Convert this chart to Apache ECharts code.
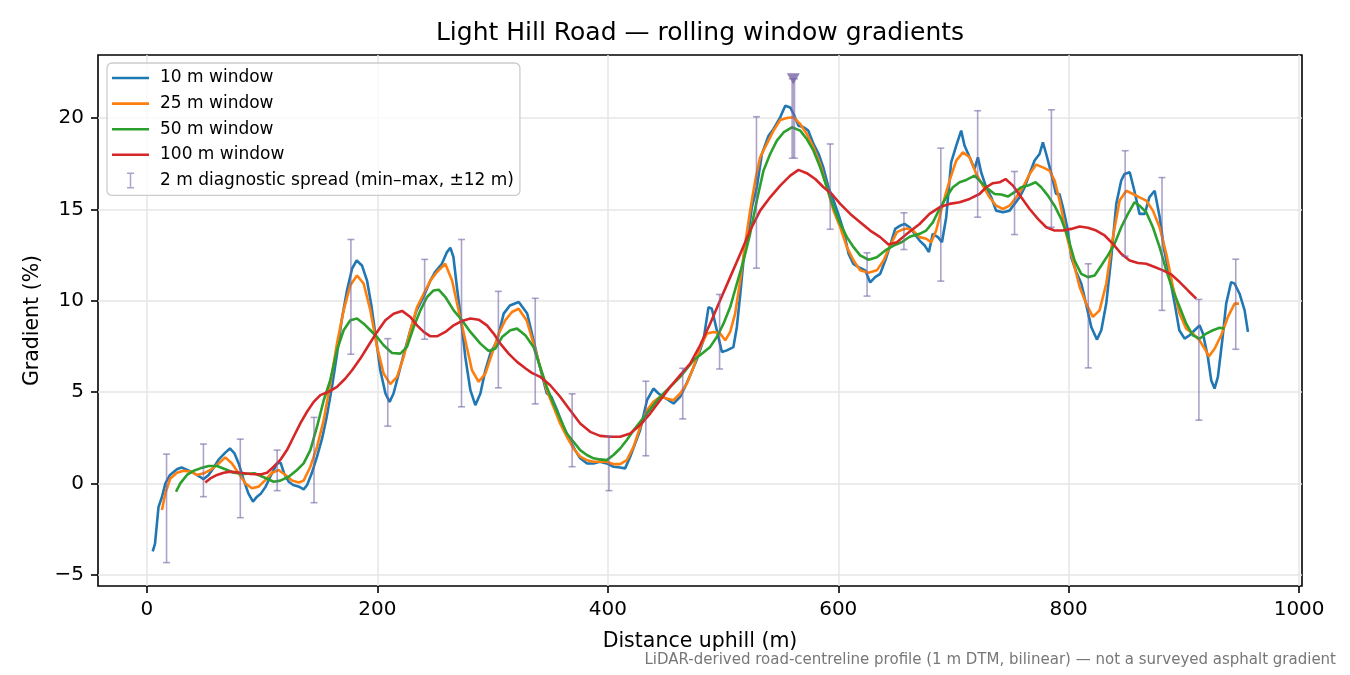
<!DOCTYPE html>
<html>
<head>
<meta charset="utf-8">
<title>Light Hill Road — rolling window gradients</title>
<script src="https://cdn.jsdelivr.net/npm/echarts@6/dist/echarts.min.js"></script>
<style>
html, body { margin: 0; padding: 0; background: #fff; }
#chart { width: 1350px; height: 675px; }
</style>
</head>
<body>
<div id="chart"></div>
<script>
// tick labels
const xTicks = [0, 200, 400, 600, 800, 1000];
const yTicks = [-5, 0, 5, 10, 15, 20];

// rolling window gradients, [distance m, gradient %]
const w10 = [[5,-3.73],[7,-3.3],[10,-1.3],[13,-0.75],[16,0],[20,0.46],[26,0.77],[30,0.87],[35,0.73],[40,0.58],[46,0.36],[49,0.22],[53.5,0.46],[58,0.87],[62,1.28],[68,1.68],[72,1.91],[76,1.64],[79.6,1.09],[84,0.18],[88,-0.55],[92,-1.0],[95.5,-0.73],[99,-0.55],[103,-0.18],[107,0.36],[113,1.09],[116,1.13],[119,0.55],[123,0.09],[127,-0.09],[132,-0.18],[136,-0.33],[139,-0.09],[143,0.55],[147.6,1.46],[152,2.46],[156,3.64],[160.6,5.28],[165,7.1],[169,8.93],[173.6,10.56],[178,11.75],[182,12.2],[186.6,11.93],[191,11.1],[195,9.65],[199,7.83],[202.5,6.19],[207,4.92],[210.6,4.46],[214,4.92],[218.5,6.0],[223,7.1],[228.6,8.38],[234,9.47],[240,10.2],[246,11.1],[250,11.57],[256,12.02],[260.4,12.66],[263.3,12.9],[266,12.39],[269,10.75],[273,8.74],[276.3,6.92],[280.7,5.1],[285,4.28],[289.4,4.92],[293.7,6.19],[298,7.1],[304,7.83],[309.6,9.29],[315,9.74],[322.7,9.93],[330,9.3],[335.5,7.83],[341,6.37],[347,4.92],[351,4.74],[356,4.0],[361.5,3.09],[367,2.37],[371.6,1.82],[376,1.37],[382,1.09],[387.6,1.09],[393,1.18],[399,1.09],[405,0.91],[410.7,0.87],[415,0.82],[419.4,1.46],[423.7,2.18],[428,2.91],[434,4.55],[439.6,5.19],[444,4.92],[448,4.74],[452.7,4.55],[457,4.37],[462.8,4.74],[467,5.28],[471.5,5.92],[477,6.74],[483,7.83],[487.4,9.65],[490.3,9.56],[494.6,8.38],[499,7.19],[503.3,7.28],[509,7.46],[512,8.56],[515,10.38],[518.3,12.56],[522,13.66],[525,15.11],[529.3,16.2],[533.7,18.03],[539.5,19.03],[543.8,19.4],[549.6,20.04],[554,20.67],[558.3,20.58],[561.2,20.22],[565.5,19.58],[570,19.49],[574,19.31],[578.5,18.58],[583,18.03],[587,17.3],[591.5,16.2],[596,15.48],[600,14.75],[604.6,13.84],[609,12.56],[613,12.02],[617.6,11.84],[623.4,11.66],[627.7,11.0],[632,11.29],[636.4,11.47],[640.8,12.2],[645,13.02],[649.4,13.93],[653.8,14.11],[657.5,14.2],[661.9,14.02],[666.2,13.66],[670.6,13.29],[675,13.02],[678.7,12.66],[682,13.66],[686.5,13.48],[690,13.2],[693.7,14.57],[698,17.57],[702.4,18.49],[706.7,19.31],[709.6,18.49],[714,17.85],[718.3,17.21],[721.2,17.85],[724,17.03],[728.4,16.2],[732.8,15.66],[737,14.93],[743,14.84],[748.7,14.93],[753,15.3],[757.4,15.66],[761.7,16.2],[766,16.94],[770.4,17.67],[774.7,18.03],[777.6,18.67],[780.5,18.03],[785,16.94],[789,15.84],[792,15.84],[795,15.11],[799.3,13.84],[802.2,12.38],[806.6,11.57],[811,10.93],[815,9.84],[819.6,8.56],[824.5,7.87],[828.3,8.38],[832.6,9.84],[837,12.38],[841.3,15.3],[845.6,16.58],[848.5,16.94],[853,17.03],[857,16.02],[861.5,14.75],[866,14.75],[870,15.66],[874.6,16.02],[879,14.57],[883,12.75],[887.6,11.29],[892,9.84],[896,8.38],[900.6,7.92],[905,8.11],[909.3,8.38],[913.6,8.65],[916.5,8.2],[920.8,6.92],[923.7,5.64],[926.6,5.19],[929.5,5.83],[933.3,7.83],[936.7,9.84],[941,11.02],[944,10.93],[948.3,10.38],[952.7,9.47],[955.6,8.29]];

const w25 = [[13,-1.46],[15.9,-0.55],[20.3,0.27],[26,0.58],[31.8,0.69],[37.6,0.64],[43.4,0.46],[49.2,0.55],[55,0.73],[60.8,1.0],[68,1.42],[73.8,1.09],[79.6,0.55],[85.4,0],[91.1,-0.27],[96.9,-0.18],[102.7,0.18],[108.5,0.58],[114.3,0.73],[120.1,0.46],[125.9,0.15],[131.7,0.05],[136,0.15],[141.8,0.91],[147.6,2.0],[153.4,3.46],[159.1,5.46],[164.9,7.65],[170.7,9.47],[176.5,10.84],[182.3,11.38],[188.1,10.93],[193.9,9.47],[199.7,7.47],[205.4,6.01],[211.2,5.43],[217,5.83],[222.8,6.92],[228.6,8.38],[234.4,9.65],[240.2,10.38],[246,11.1],[251.7,11.57],[258.9,12.02],[264.8,11.1],[270.5,9.47],[276.3,7.83],[282.1,6.19],[287.9,5.56],[293.7,6.01],[299.5,7.1],[305.3,8.2],[311,8.93],[316.8,9.38],[322.6,9.56],[329.7,8.9],[335.5,7.65],[341.3,6.37],[347,5.1],[352.8,4.19],[358.6,3.28],[364.4,2.55],[370.2,1.91],[376,1.46],[381.8,1.27],[387.6,1.18],[393.3,1.18],[399.1,1.18],[404.9,1.05],[410.7,1.05],[416.5,1.27],[422.3,2.0],[428.1,3.09],[433.9,4.0],[439.6,4.46],[445.4,4.74],[451.2,4.64],[457,4.55],[462.8,4.92],[468.6,5.46],[474.4,6.37],[480.2,7.47],[486,8.2],[491.8,8.29],[497.5,8.2],[501.9,7.83],[506.2,8.29],[510.5,9.29],[514.9,11.11],[519.2,13.11],[523.5,14.93],[527.9,16.57],[532.2,17.85],[538,18.58],[543.8,19.31],[549.6,19.89],[555.4,20.0],[561.2,20.04],[567,19.67],[572.7,19.13],[578.5,18.4],[584.3,17.49],[590.1,16.21],[595.9,14.93],[601.7,14.02],[607.5,12.93],[613.3,12.2],[619,11.66],[626.3,11.53],[633.5,11.66],[639.3,12.2],[645.1,13.02],[650.9,13.75],[656,13.9],[660,13.95],[664.8,13.84],[670.6,13.48],[676.3,13.39],[680.7,13.2],[685,13.84],[690.8,15.3],[696.6,16.57],[702.4,17.67],[708.2,18.12],[714,17.85],[719.8,16.94],[725.5,16.3],[731.3,15.66],[737.1,15.2],[742.9,15.02],[748.7,15.2],[754.5,15.66],[760.3,16.21],[766.1,16.94],[771.8,17.45],[777.6,17.3],[783.4,17.12],[787.8,16.57],[792.1,15.48],[797.9,13.66],[803.7,12.2],[809.5,10.75],[815.2,9.84],[821,9.11],[826.8,9.47],[832.6,10.93],[838.4,13.48],[844.2,15.48],[850,16.02],[855.8,15.84],[861.5,15.66],[867.3,15.48],[873.1,14.93],[878.9,14.02],[884.7,12.57],[890.5,10.75],[896.3,9.29],[902,8.47],[907.8,8.2],[913.6,7.83],[918,7.37],[921.7,6.95],[926.6,7.37],[932.4,8.11],[938.2,9.11],[944,9.84],[947.8,9.84]];

const w50 = [[25.2,-0.46],[28.9,0],[34.7,0.46],[40.5,0.69],[46.3,0.82],[53.5,0.95],[60.8,0.95],[68,0.77],[75.2,0.58],[83.9,0.51],[93.2,0.55],[101.3,0.33],[110,0.09],[115.7,0.15],[123,0.36],[130.2,0.73],[136,1.09],[141.8,1.82],[147.6,3.1],[153.4,4.55],[159.1,5.65],[164.9,7.29],[170.7,8.38],[176.5,8.93],[182.3,9.02],[188.1,8.74],[193.9,8.38],[199.7,8.01],[205.4,7.56],[212.7,7.14],[219.9,7.1],[225.7,7.47],[231.5,8.56],[237.3,9.47],[243.1,10.2],[248.8,10.56],[253.2,10.6],[259,10.2],[266.2,9.47],[273.4,8.93],[280.7,8.29],[289.4,7.65],[296.6,7.25],[302.4,7.38],[308.2,8.01],[315.4,8.38],[321.2,8.47],[328.4,8.11],[335.5,7.47],[341.3,6.37],[347,5.28],[352.8,4.37],[358.6,3.55],[364.4,2.73],[370.2,2.28],[376,1.82],[381.8,1.55],[387.6,1.37],[393.3,1.31],[399.1,1.27],[404.9,1.55],[410.7,1.91],[416.5,2.37],[422.3,2.91],[428.1,3.37],[433.9,3.82],[439.6,4.28],[445.4,4.74],[451.2,5.1],[457,5.46],[462.8,5.83],[468.6,6.28],[474.4,6.74],[481.6,7.1],[488.8,7.47],[494.6,8.01],[500.4,8.74],[506.2,9.65],[512,10.93],[517.8,12.2],[523.5,13.66],[529.3,15.48],[535.1,17.12],[540.9,18.03],[546.7,18.76],[552.5,19.21],[559.7,19.49],[567,19.31],[572.7,18.85],[578.5,18.21],[584.3,17.3],[590.1,16.21],[595.9,15.11],[601.7,14.2],[607.5,13.48],[613.3,12.93],[619,12.48],[626.3,12.24],[633.5,12.38],[640.8,12.75],[648,13.02],[655,13.2],[662,13.5],[670.6,13.66],[676.3,13.84],[682.1,14.29],[687.9,15.02],[693.7,15.66],[699.5,16.21],[705.3,16.48],[711.1,16.61],[718.3,16.85],[724.1,16.48],[729.9,16.12],[735.7,15.84],[741.5,15.81],[747.2,15.7],[753,15.94],[758.8,16.21],[764.6,16.3],[771.3,16.48],[776.2,16.21],[782,15.75],[787.7,15.2],[793.5,14.48],[799.3,13.48],[805.1,12.2],[810.9,11.47],[816.7,11.29],[822.5,11.38],[828.3,11.93],[834,12.48],[839.8,13.11],[845.6,14.02],[851.4,14.75],[857.2,15.39],[861.5,15.2],[867.3,14.84],[873.1,14.02],[878.9,12.93],[884.7,11.66],[890.5,10.56],[896.3,9.65],[902,8.74],[907.8,8.1],[913.6,7.92],[919.4,8.2],[925.2,8.38],[931,8.52],[935.3,8.47]];

const w100 = [[50.6,0.04],[55,0.27],[60.8,0.46],[66.6,0.58],[72.3,0.64],[81,0.58],[89.7,0.51],[98.4,0.49],[104.2,0.58],[110,0.91],[115.7,1.28],[121.5,1.82],[127.3,2.55],[133.1,3.28],[138.9,3.92],[144.7,4.46],[150.5,4.83],[157.7,5.01],[164.9,5.28],[172.2,5.74],[178,6.19],[185.2,6.83],[192.4,7.56],[199.7,8.29],[206.9,8.93],[214.1,9.29],[221.4,9.44],[228.6,9.11],[234.4,8.65],[240.2,8.29],[246,8.05],[251.7,8.05],[259,8.29],[266.2,8.65],[273.4,8.89],[280.7,9.02],[287.9,8.96],[295.1,8.65],[300.9,8.2],[306.7,7.65],[313.9,7.1],[321.2,6.65],[328.4,6.3],[334,6.05],[341.3,5.83],[350,5.37],[358.6,4.74],[367.3,4.0],[376,3.28],[384.7,2.82],[393.3,2.6],[402,2.55],[410.7,2.55],[419.4,2.73],[428.1,3.19],[436.7,3.82],[445.4,4.55],[454.1,5.28],[462.8,5.92],[471.5,6.55],[480.1,7.56],[488.8,8.74],[497.5,10.02],[506.2,11.29],[514.9,12.56],[523.5,13.84],[532.2,14.93],[540.9,15.66],[549.6,16.3],[558.3,16.85],[565.5,17.16],[572.7,16.98],[580,16.66],[587.2,16.21],[594.4,15.84],[601.7,15.3],[610.4,14.75],[619,14.3],[627.7,13.84],[636.4,13.48],[643.6,13.08],[650.9,13.2],[659.6,13.66],[670.6,14.2],[679.2,14.75],[687.9,15.11],[696.6,15.3],[705.3,15.39],[714,15.57],[722.6,15.84],[728.4,16.21],[734.2,16.43],[740,16.48],[745.2,16.66],[751.6,16.3],[758.8,15.66],[766.1,15.02],[773.3,14.48],[780.5,14.02],[787.7,13.84],[795,13.84],[802.2,13.93],[809.4,14.06],[816.7,13.99],[823.9,13.84],[831.2,13.57],[838.4,13.11],[845.6,12.57],[852.9,12.2],[860.1,12.06],[867.3,12.02],[874.6,11.84],[881.8,11.66],[889,11.44],[896.3,11.02],[903.5,10.56],[910.7,10.11]];

// 2 m diagnostic spread (min / max within ±12 m)
const spreadX = [17,49,81,113,145,177,209,241,273,305,337,369,401,433,465,497,529,561,593,625,657,689,721,753,785,817,849,881,913,945];
const spreadMin = [-4.34,-0.73,-1.88,-0.40,-1.06,7.07,3.13,7.89,4.19,5.23,4.35,0.91,-0.40,1.51,3.53,6.26,11.78,17.8,13.91,10.25,12.8,11.07,14.57,13.62,14.02,6.32,12.44,9.47,3.46,7.34];
const spreadMax = [1.60,2.15,2.42,1.82,3.61,13.35,7.92,12.26,13.35,10.51,10.13,4.90,2.58,5.59,6.30,10.34,20.07,22.15,18.58,12.62,14.81,18.35,20.40,17.07,20.45,12.02,18.21,16.74,10.07,12.27];

const FONT = 'DejaVu Sans';
const spreadName = '2 m diagnostic spread (min\u2013max, \u00b112 m)';
const peakMax = Math.max(...spreadMax);
const lineIcon = 'path://M0,0H37V2.6H0Z';

var chart = echarts.init(document.getElementById('chart'));

function renderSpread(params, api) {
    const x = api.value(0);
    const hi = api.value(2);
    const top = api.coord([x, hi]);
    const bot = api.coord([x, api.value(1)]);
    const peak = hi === peakMax;
    const stroke = 'rgba(118,100,165,0.6)';
    const cap = peak ? 4.5 : 3.5;
    const children = [
        { type: 'line', shape: { x1: top[0], y1: top[1], x2: bot[0], y2: bot[1] }, style: { stroke: stroke, lineWidth: peak ? 4 : 1.6 } },
        { type: 'line', shape: { x1: top[0] - cap, y1: top[1], x2: top[0] + cap, y2: top[1] }, style: { stroke: stroke, lineWidth: 1.6 } },
        { type: 'line', shape: { x1: bot[0] - cap, y1: bot[1], x2: bot[0] + cap, y2: bot[1] }, style: { stroke: stroke, lineWidth: 1.6 } }
    ];
    if (peak) {
        // marker at the steepest 2 m reading
        children.push({
            type: 'polygon',
            shape: { points: [[top[0] - 6.5, top[1] - 5.5], [top[0] + 6.5, top[1] - 5.5], [top[0], top[1] + 5.5]] },
            style: { fill: 'rgba(118,100,165,0.8)' }
        });
    }
    return { type: 'group', children: children };
}

function lineSeries(name, data, color) {
    return {
        name: name,
        type: 'line',
        data: data,
        symbol: 'none',
        smooth: false,
        lineStyle: { color: color, width: 2.6 },
        itemStyle: { color: color },
        z: 3
    };
}

function tickText(v) {
    return String(v).replace('-', '\u2212');
}

chart.setOption({
    animation: false,
    textStyle: { fontFamily: FONT },
    grid: {
        left: 98, right: 48, top: 55, bottom: 89,
        show: true, borderColor: '#000', borderWidth: 1.6
    },
    graphic: [
        {
            type: 'text', x: 700, y: 33,
            style: { text: 'Light Hill Road \u2014 rolling window gradients', font: '25px "DejaVu Sans"', fill: '#000', textAlign: 'center', textVerticalAlign: 'middle' }
        },
        {
            type: 'text', x: 1336, y: 660,
            style: { text: 'LiDAR-derived road-centreline profile (1 m DTM, bilinear) \u2014 not a surveyed asphalt gradient', font: '15px "DejaVu Sans"', fill: '#777', textAlign: 'right', textVerticalAlign: 'middle' }
        }
    ],
    legend: {
        orient: 'vertical',
        left: 107, top: 63,
        padding: [6, 6, 6, 5],
        itemWidth: 37, itemHeight: 16, itemGap: 7.6,
        backgroundColor: 'rgba(255,255,255,0.8)',
        borderColor: '#cccccc', borderWidth: 1.3, borderRadius: 5,
        textStyle: { fontFamily: FONT, fontSize: 17, color: '#000', lineHeight: 18, padding: [0, 0, 0, 6] },
        data: [
            { name: '10 m window', icon: lineIcon },
            { name: '25 m window', icon: lineIcon },
            { name: '50 m window', icon: lineIcon },
            { name: '100 m window', icon: lineIcon },
            { name: spreadName, icon: 'path://M0,0H7V1.5H4.25V14.5H7V16H0V14.5H2.75V1.5H0Z' }
        ]
    },
    xAxis: {
        type: 'value', min: -42.5, max: 1002.5,
        name: 'Distance uphill (m)', nameLocation: 'middle', nameGap: 45,
        nameTextStyle: { fontFamily: FONT, fontSize: 20.5, color: '#000' },
        axisLine: { show: false, onZero: false },
        axisTick: { show: true, length: 7, customValues: xTicks, lineStyle: { color: '#000', width: 1.6 } },
        axisLabel: { customValues: xTicks, formatter: tickText, margin: 14, fontSize: 20, color: '#000', fontFamily: FONT },
        splitLine: { show: true, lineStyle: { color: '#e6e6e6', width: 1.5 } }
    },
    yAxis: {
        type: 'value', min: -5.62, max: 23.45,
        name: 'Gradient (%)', nameLocation: 'middle', nameGap: 53,
        nameTextStyle: { fontFamily: FONT, fontSize: 20.5, color: '#000' },
        axisLine: { show: false, onZero: false },
        axisTick: { show: true, length: 7, customValues: yTicks, lineStyle: { color: '#000', width: 1.6 } },
        axisLabel: { customValues: yTicks, formatter: tickText, margin: 14, fontSize: 20, color: '#000', fontFamily: FONT },
        splitLine: { show: true, lineStyle: { color: '#e6e6e6', width: 1.5 } }
    },
    series: [
        lineSeries('10 m window', w10, '#1f77b4'),
        lineSeries('25 m window', w25, '#ff7f0e'),
        lineSeries('50 m window', w50, '#2ca02c'),
        lineSeries('100 m window', w100, '#d62728'),
        {
            name: spreadName,
            type: 'custom',
            renderItem: renderSpread,
            itemStyle: { color: 'rgba(118,100,165,0.6)' },
            encode: { x: 0, y: [1, 2] },
            data: spreadX.map((x, i) => [x, spreadMin[i], spreadMax[i]]),
            z: 4
        }
    ]
});
</script>
</body>
</html>
